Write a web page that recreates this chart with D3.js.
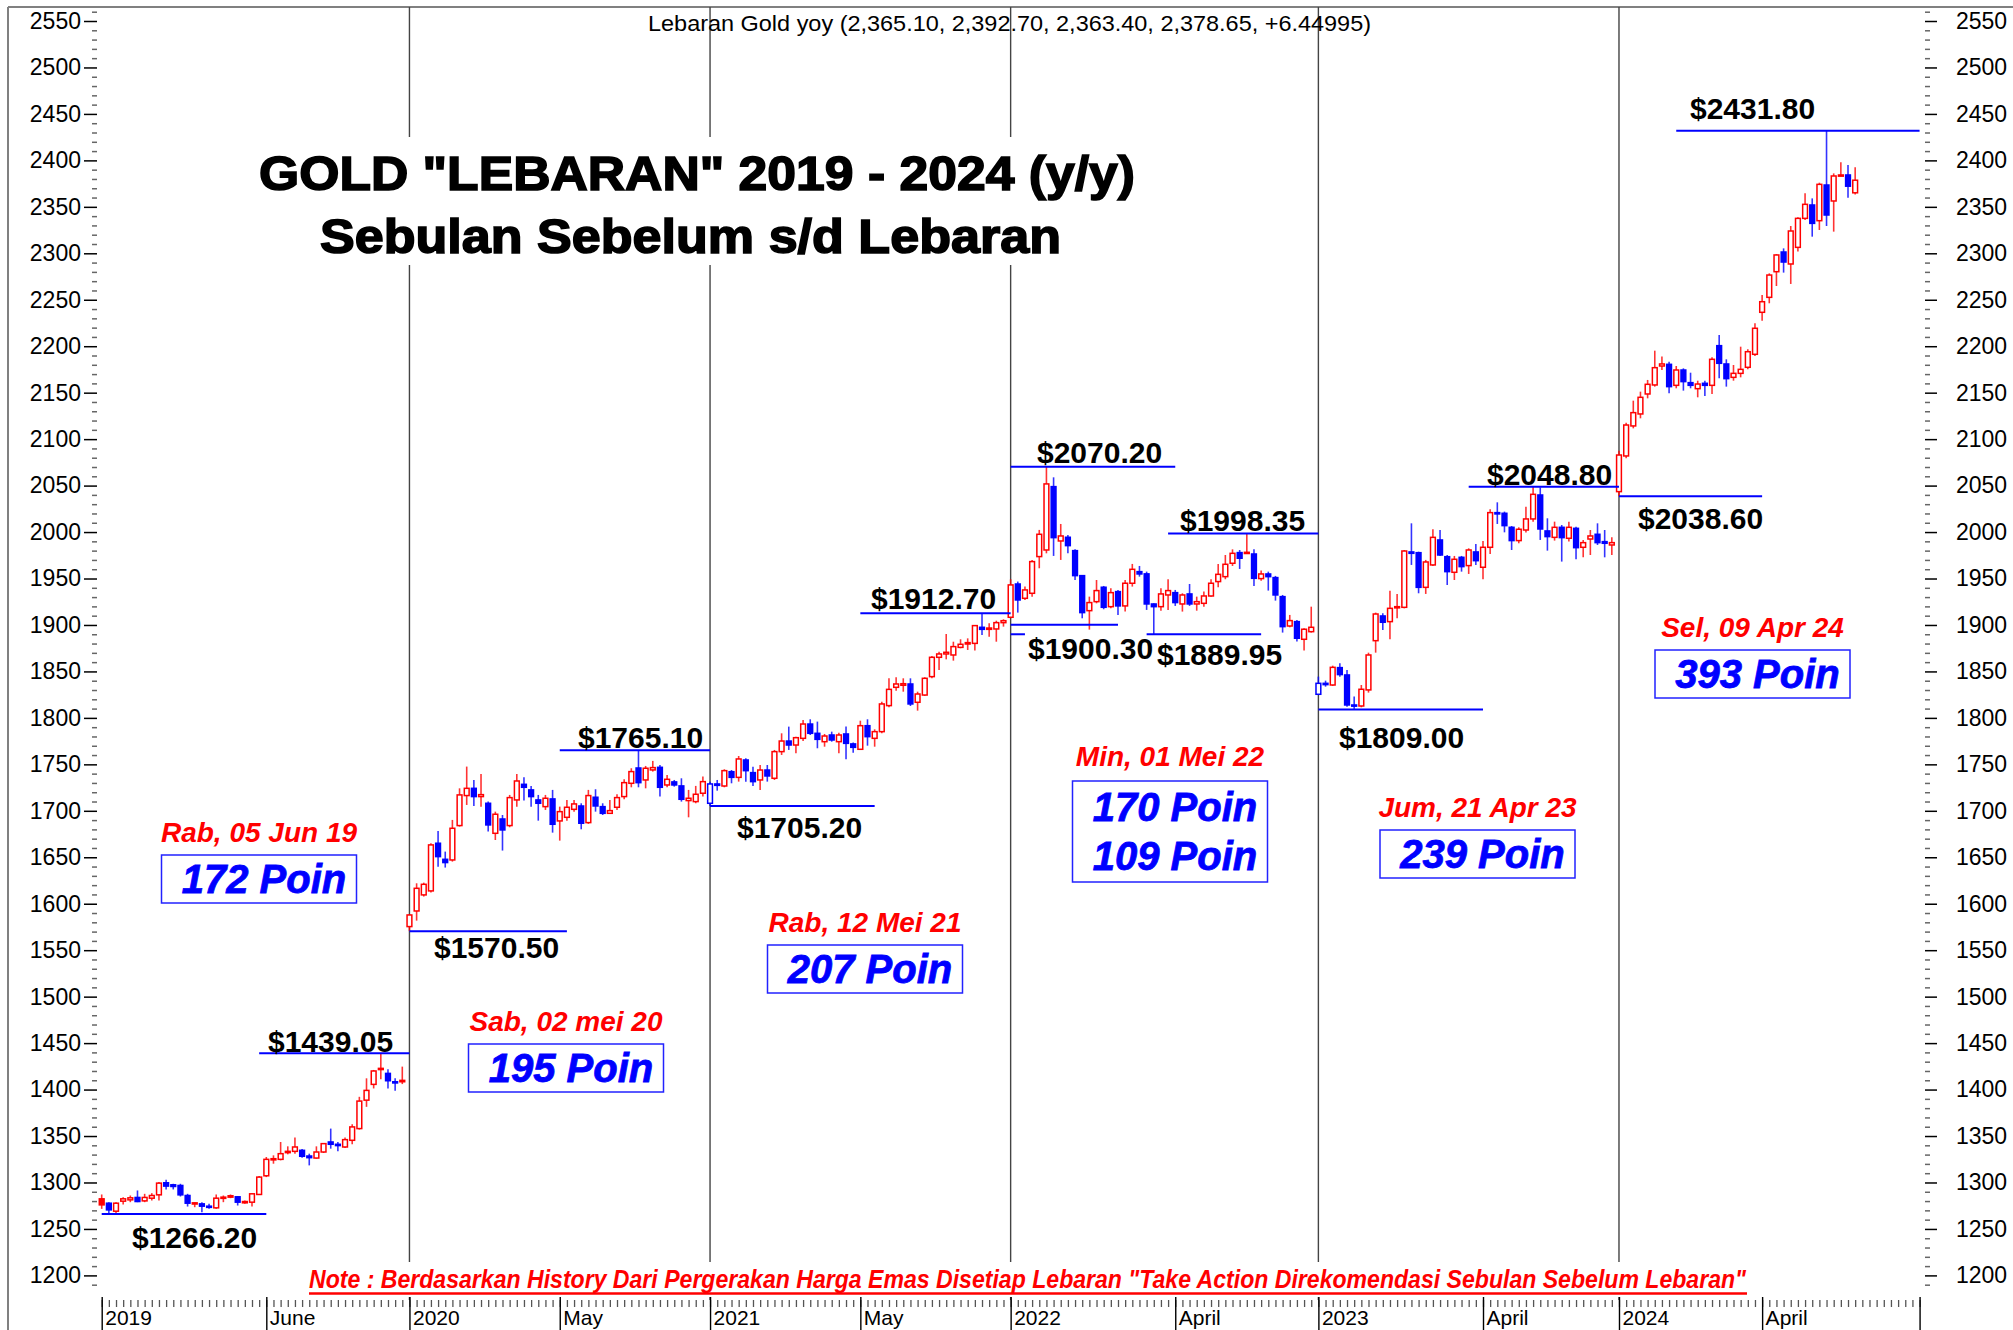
<!DOCTYPE html>
<html><head><meta charset="utf-8">
<script src="https://cdn.jsdelivr.net/npm/d3@7"></script>
<style>html,body{margin:0;padding:0;background:#fff;} svg{display:block;}</style>
</head><body>
<svg id="chart" width="2013" height="1330"></svg>
<script>
// ---------------- DATA ----------------
const years = [2019, 2020, 2021, 2022, 2023, 2024];
const monthLabels = ["June", "May", "May", "April", "April", "April"];
const monthLabelBar = [23, 21, 21, 23, 23, 20]; // bar offset inside each segment
const totalBars = 255;
const priorClose = 1273.0;

// [open, high, low, close]
const ohlc2019 = [
[1282.4,1287.1,1271.6,1275.9],[1277.7,1278.8,1266.2,1270.5],[1269.1,1278.8,1266.9,1277.7],[1279.9,1284.2,1276.3,1282.4],
[1281.3,1286.0,1278.8,1283.5],[1283.9,1291.4,1278.8,1279.5],[1280.2,1287.8,1278.8,1283.9],[1283.1,1288.5,1280.6,1286.0],
[1286.7,1300.4,1280.6,1299.3],[1299.7,1302.9,1292.5,1296.1],[1297.5,1298.6,1292.5,1295.7],[1296.8,1298.6,1284.9,1286.7],
[1286.0,1287.8,1274.1,1277.7],[1277.0,1278.8,1273.4,1278.1],[1277.0,1278.8,1268.0,1274.5],[1274.5,1277.0,1271.6,1273.4],
[1272.7,1287.1,1271.6,1283.1],[1283.1,1286.0,1278.8,1284.2],[1284.2,1287.1,1283.1,1285.7],[1284.6,1285.3,1275.2,1278.8],
[1278.1,1280.6,1277.0,1279.5],[1278.8,1288.5,1274.1,1287.8],[1287.1,1306.9,1286.7,1305.8],[1307.2,1327.4,1305.8,1324.9],
[1324.5,1329.2,1320.2,1325.6],[1324.9,1343.6,1323.8,1331.0],[1332.1,1338.9,1330.3,1333.5],[1333.5,1348.3,1331.0,1338.2],
[1334.6,1336.1,1326.7,1328.2],[1328.5,1331.0,1318.4,1326.7],[1326.3,1338.9,1325.6,1332.8],[1332.8,1342.5,1331.7,1341.8],
[1343.6,1358.0,1336.4,1341.1],[1341.1,1343.6,1333.5,1339.7],[1338.2,1348.3,1337.1,1346.1],[1345.4,1362.7,1341.1,1359.8],
[1358.0,1392.2,1356.9,1387.6],[1388.6,1412.1,1381.4,1399.1],[1405.6,1421.1,1401.2,1420.0],[1422.1,1439.05,1411.0,1422.8],
[1417.4,1421.8,1401.2,1409.5],[1408.4,1412.1,1398.7,1407.4],[1408.4,1424.7,1405.9,1409.9]
];
const ohlc2020 = [
[1575.4,1589.0,1570.5,1587.9],[1592.2,1622.0,1581.8,1616.6],[1609.5,1622.7,1607.7,1620.9],[1613.8,1665.1,1612.0,1663.3],
[1665.1,1678.3,1639.9,1650.7],[1647.8,1656.1,1638.9,1644.3],[1647.1,1690.2,1645.3,1681.2],[1684.1,1724.2,1683.0,1717.1],
[1716.4,1747.6,1706.3,1724.2],[1724.2,1733.2,1705.2,1715.3],[1715.3,1739.7,1704.5,1717.4],[1708.1,1709.9,1677.6,1684.8],
[1675.8,1699.1,1668.6,1696.3],[1691.2,1695.5,1657.2,1679.4],[1684.1,1717.1,1682.3,1714.2],[1711.7,1739.7,1704.5,1732.1],
[1728.5,1736.1,1711.0,1725.3],[1722.5,1726.8,1704.5,1715.3],[1711.7,1717.1,1689.4,1708.1],[1704.5,1717.1,1700.9,1713.5],
[1712.8,1722.5,1676.5,1685.5],[1689.1,1704.5,1667.9,1699.1],[1693.0,1711.7,1689.4,1703.8],[1701.6,1711.7,1699.1,1707.4],
[1705.2,1708.1,1680.1,1686.6],[1687.3,1722.5,1685.9,1716.4],[1714.6,1723.2,1699.1,1705.2],[1704.5,1708.1,1695.5,1697.3],
[1697.3,1711.7,1696.6,1700.2],[1703.8,1717.8,1700.9,1714.2],[1715.3,1733.9,1712.4,1730.3],[1729.6,1745.8,1725.3,1742.2],
[1746.1,1765.1,1725.3,1730.3],[1733.2,1748.3,1724.2,1745.8],[1744.0,1753.7,1742.2,1746.5],[1746.8,1749.4,1715.3,1725.3],
[1727.8,1738.6,1725.3,1733.9],[1731.1,1733.2,1726.0,1727.8],[1726.8,1735.0,1709.9,1712.4],[1711.0,1722.5,1693.0,1713.5],
[1709.9,1726.8,1708.1,1717.8],[1718.9,1736.8,1715.3,1731.4]
];
const ohlc2021 = [
[1708.1,1731.4,1705.2,1728.9],[1728.9,1733.2,1721.7,1727.4],[1726.7,1744.7,1725.3,1743.2],[1742.1,1743.9,1729.6,1736.0],
[1736.0,1759.0,1731.4,1755.8],[1754.7,1756.5,1731.4,1743.2],[1741.1,1747.5,1726.7,1731.4],[1733.2,1749.3,1722.4,1743.9],
[1743.9,1749.3,1731.4,1737.5],[1735.0,1765.5,1733.2,1763.7],[1763.7,1783.4,1760.1,1775.1],[1775.1,1790.6,1765.5,1770.8],
[1770.8,1779.8,1761.9,1778.7],[1778.0,1797.7,1775.1,1793.4],[1793.4,1798.5,1781.6,1783.4],[1783.4,1796.0,1767.3,1776.9],
[1774.4,1782.7,1769.0,1780.5],[1781.6,1785.2,1774.4,1776.2],[1774.4,1784.1,1761.9,1781.6],[1782.7,1790.6,1755.4,1772.6],
[1772.0,1773.4,1762.6,1768.3],[1766.2,1797.0,1765.5,1791.6],[1791.6,1798.5,1770.1,1779.8],[1778.0,1787.7,1769.0,1785.2],
[1785.2,1817.5,1783.4,1815.0],[1813.2,1842.6,1811.4,1830.7],[1832.9,1843.7,1829.3,1836.5],[1835.1,1842.6,1828.2,1836.8],
[1836.5,1842.6,1812.8,1815.0],[1816.8,1828.2,1807.8,1825.7],[1824.6,1843.7,1823.6,1842.6],[1844.4,1866.6,1842.6,1865.2],
[1865.2,1871.3,1851.6,1868.8],[1868.8,1890.3,1863.0,1870.6],[1867.7,1882.0,1861.6,1876.7],[1875.9,1884.6,1874.9,1879.2],
[1879.5,1885.6,1873.1,1881.0],[1880.2,1900.0,1872.4,1899.3],[1897.5,1912.7,1889.2,1895.3],[1895.3,1901.8,1887.4,1896.7],
[1895.7,1904.6,1882.0,1902.5],[1902.5,1906.1,1898.2,1904.6]
];
const ohlc2022 = [
[1908.3,1949.2,1907.2,1943.1],[1944.1,1946.7,1913.3,1926.9],[1928.7,1941.3,1926.9,1937.7],[1934.1,1970.0,1930.5,1968.2],
[1973.6,2002.3,1961.0,1997.6],[1980.7,2070.2,1977.1,2051.8],[2048.9,2058.9,1974.3,1994.0],[1990.4,2008.7,1970.0,1995.8],
[1994.4,1996.9,1977.1,1985.4],[1980.0,1981.4,1948.4,1953.1],[1953.1,1953.8,1907.2,1913.3],[1915.4,1930.5,1895.0,1924.1],
[1925.1,1948.4,1923.3,1937.0],[1940.6,1942.0,1916.9,1919.0],[1919.7,1939.5,1918.0,1934.8],[1935.9,1937.7,1910.8,1920.5],
[1920.5,1948.4,1914.4,1944.9],[1944.9,1965.7,1941.3,1959.9],[1957.4,1963.5,1952.0,1954.9],[1955.0,1957.4,1916.2,1922.6],
[1922.6,1923.3,1889.95,1919.7],[1919.7,1939.5,1915.4,1933.4],[1932.3,1949.2,1916.2,1937.0],[1934.8,1937.7,1920.5,1924.1],
[1922.6,1934.1,1914.4,1932.3],[1933.4,1944.1,1920.5,1922.6],[1922.6,1930.5,1915.4,1925.1],[1923.3,1935.9,1919.7,1931.2],
[1931.2,1949.2,1930.5,1944.9],[1946.7,1965.7,1940.6,1954.5],[1952.0,1975.3,1949.2,1965.3],[1966.4,1981.4,1963.5,1977.1],
[1977.9,1980.7,1960.3,1971.8],[1977.1,1998.35,1976.4,1978.2],[1976.4,1981.4,1942.0,1950.2],[1949.9,1958.5,1947.7,1954.9],
[1954.9,1957.4,1937.0,1952.0],[1951.0,1952.8,1926.2,1932.3],[1930.5,1932.3,1891.8,1898.2],[1898.9,1910.8,1897.5,1904.7],
[1903.6,1905.4,1882.1,1885.7],[1884.6,1896.4,1872.4,1895.4],[1892.8,1919.7,1891.8,1897.5]
];
const ohlc2023 = [
[1825.4,1844.4,1824.7,1837.2],[1837.2,1840.1,1833.6,1835.8],[1835.4,1856.2,1834.4,1854.4],[1854.1,1858.8,1844.4,1846.6],
[1846.2,1851.6,1812.1,1813.9],[1813.9,1822.9,1809.0,1812.8],[1812.8,1835.4,1811.4,1830.8],[1830.1,1870.2,1827.2,1867.7],
[1883.1,1913.3,1870.2,1911.8],[1909.7,1912.6,1894.6,1902.9],[1903.6,1936.9,1884.6,1917.9],[1919.0,1933.4,1907.2,1919.7],
[1919.0,1980.7,1917.9,1979.6],[1978.6,2009.4,1964.6,1977.1],[1977.8,1978.9,1934.1,1940.5],[1940.5,1970.0,1933.4,1967.8],
[1964.6,2003.0,1963.5,1994.3],[1991.5,2002.2,1974.3,1975.3],[1973.5,1975.3,1943.0,1957.4],[1956.7,1974.3,1948.4,1970.7],
[1972.8,1974.3,1957.4,1962.8],[1963.9,1982.5,1954.9,1980.7],[1978.6,1987.2,1964.6,1969.2],[1962.1,1990.4,1949.1,1983.6],
[1983.6,2024.5,1976.4,2020.9],[2020.9,2032.0,2008.7,2019.5],[2020.2,2022.0,1999.7,2006.9],[2005.1,2006.5,1980.7,1990.8],
[1990.8,2005.1,1987.9,2003.0],[2002.2,2027.3,1999.4,2014.1],[2014.1,2048.8,2011.2,2040.6],[2039.9,2048.1,1991.5,2003.3],
[2001.2,2014.8,1980.0,1995.1],[1994.3,2011.2,1990.8,2005.1],[2005.1,2007.6,1968.2,1994.0],[1993.3,2011.2,1989.7,2005.1],
[2004.0,2005.8,1970.7,1983.2],[1983.6,1991.5,1972.8,1988.6],[1992.5,2002.2,1975.3,1995.8],[1997.6,2009.4,1986.1,1988.6],
[1989.7,2002.2,1972.8,1987.9],[1986.1,1994.3,1975.3,1988.6]
];
const ohlc2024 = [
[2043.5,2087.6,2038.6,2082.9],[2081.9,2117.7,2079.4,2115.2],[2114.2,2141.4,2111.6,2128.5],[2127.1,2151.1,2122.4,2145.0],
[2148.6,2163.7,2143.9,2159.0],[2158.3,2195.2,2156.5,2176.9],[2178.7,2188.8,2174.4,2180.9],[2180.5,2183.4,2149.3,2156.5],
[2157.9,2178.7,2154.7,2174.4],[2174.4,2176.2,2152.2,2161.9],[2160.8,2171.5,2154.7,2157.9],[2154.3,2162.9,2145.0,2159.3],
[2160.1,2162.9,2146.4,2157.9],[2157.9,2188.0,2148.6,2185.9],[2200.6,2212.1,2165.4,2181.6],[2180.9,2185.9,2156.5,2165.1],
[2166.5,2179.8,2162.9,2170.8],[2170.8,2199.5,2166.5,2175.1],[2177.3,2196.7,2175.1,2194.1],[2191.3,2224.6,2189.5,2219.3],
[2236.5,2255.1,2227.5,2247.9],[2252.6,2278.4,2246.2,2276.6],[2280.2,2299.2,2264.8,2298.2],[2301.4,2305.3,2279.2,2290.6],
[2288.5,2329.4,2267.0,2324.0],[2306.4,2338.7,2301.8,2337.6],[2337.6,2364.5,2335.8,2352.7],[2352.0,2359.1,2317.9,2332.2],
[2335.1,2376.0,2325.1,2374.2],[2373.5,2431.8,2329.4,2341.2],[2356.3,2386.0,2323.3,2383.2],[2383.2,2397.9,2383.2,2384.3],
[2384.3,2395.0,2359.9,2372.2],[2365.10,2392.70,2363.40,2378.65]
];

// horizontal level annotations
const levelValues = [1266.20, 1439.05, 1570.50, 1765.10, 1705.20, 1912.70, 2070.20, 1900.30, 1890.0, 1998.35, 1889.95, 1809.00, 2048.80, 2038.60, 2431.80];
const levelStart  = [0, 22, 43, 64, 85, 106, 127, 127, 127, 149, 146, 170, 191, 212, 220];
const levelEnd    = [23, 43, 65, 85, 108, 127, 150, 142, 129, 170, 162, 193, 212, 232, 254];
const levelText   = ["$1266.20","$1439.05","$1570.50","$1765.10","$1705.20","$1912.70","$2070.20","$1900.30","","$1998.35","$1889.95","$1809.00","$2048.80","$2038.60","$2431.80"];

const dayLabels  = ["Rab, 05 Jun 19", "Sab, 02 mei 20", "Rab, 12 Mei 21", "Min, 01 Mei 22", "Jum, 21 Apr 23", "Sel, 09 Apr 24"];
const poinLabels = [["172 Poin"], ["195 Poin"], ["207 Poin"], ["170 Poin", "109 Poin"], ["239 Poin"], ["393 Poin"]];

const infoText = "Lebaran Gold yoy (2,365.10, 2,392.70, 2,363.40, 2,378.65, +6.44995)";
const titleLines = ['GOLD "LEBARAN" 2019 - 2024 (y/y)', 'Sebulan Sebelum s/d Lebaran'];
const noteText = 'Note : Berdasarkan History Dari Pergerakan Harga Emas Disetiap Lebaran "Take Action Direkomendasi Sebulan Sebelum Lebaran"';

// ---------------- DRAW ----------------
const RED = "#ff0000", BLUE = "#0000ff";
const FONT = "'Liberation Sans', Arial, Helvetica, sans-serif";
const svg = d3.select("#chart");
svg.append("rect").attr("width", 2013).attr("height", 1330).attr("fill", "#fff");

const x = d3.scaleLinear().domain([0, totalBars - 1]).range([101.7, 101.7 + (totalBars - 1) * 7.157]);
const y = d3.scaleLinear().domain([1200, 2550]).range([1275.4, 21.0]);

const segments = [ohlc2019, ohlc2020, ohlc2021, ohlc2022, ohlc2023, ohlc2024];
const segStart = [];
const bars = [];
let idx = 0, prev = priorClose;
segments.forEach(seg => {
  segStart.push(idx);
  seg.forEach(d => {
    bars.push({ i: idx++, o: d[0], h: d[1], l: d[2], c: d[3], hollow: d[3] >= d[0], col: d[3] >= prev ? RED : BLUE });
    prev = d[3];
  });
});

// frame
svg.append("line").attr("x1", 8).attr("x2", 2013).attr("y1", 7).attr("y2", 7).attr("stroke", "#808080").attr("stroke-width", 2);
svg.append("line").attr("x1", 8).attr("x2", 8).attr("y1", 7).attr("y2", 1330).attr("stroke", "#808080").attr("stroke-width", 2);

// segment separators
segStart.slice(1).forEach(s => {
  svg.append("line").attr("x1", x(s)).attr("x2", x(s)).attr("y1", 7).attr("y2", 1300)
    .attr("stroke", "#444").attr("stroke-width", 1.4);
});

// Y axes
const major = d3.range(1200, 2551, 50);
const minor = d3.range(1190, 2561, 10).filter(v => v % 50 !== 0);
function styleAxis(g, col, w) {
  g.select(".domain").remove();
  g.selectAll(".tick line").attr("stroke", col).attr("stroke-width", w);
  g.selectAll("text").attr("font-family", FONT).attr("font-size", 23).attr("fill", "#000");
}
svg.append("g").attr("transform", "translate(97,0)")
  .call(d3.axisLeft(y).tickValues(minor).tickSize(5).tickFormat(""))
  .call(g => styleAxis(g, "#666", 1.5));
svg.append("g").attr("transform", "translate(97,0)")
  .call(d3.axisLeft(y).tickValues(major).tickSize(13).tickPadding(3).tickFormat(d3.format("d")))
  .call(g => styleAxis(g, "#000", 1.5));
svg.append("g").attr("transform", "translate(1925,0)")
  .call(d3.axisRight(y).tickValues(minor).tickSize(5).tickFormat(""))
  .call(g => styleAxis(g, "#666", 1.5));
svg.append("g").attr("transform", "translate(1925,0)")
  .call(d3.axisRight(y).tickValues(major).tickSize(12).tickPadding(19).tickFormat(d3.format("d")))
  .call(g => styleAxis(g, "#000", 1.5));

// X axis
const xMajor = [];
const xLabel = {};
years.forEach((yr, k) => {
  xMajor.push(segStart[k]); xLabel[segStart[k]] = String(yr);
  const m = segStart[k] + monthLabelBar[k];
  xMajor.push(m); xLabel[m] = monthLabels[k];
});
xMajor.push(totalBars - 1); xLabel[totalBars - 1] = "";
svg.append("g").attr("transform", "translate(0,1300)")
  .call(d3.axisBottom(x).tickValues(d3.range(0, totalBars)).tickSize(7).tickFormat(""))
  .call(g => { g.select(".domain").remove(); g.selectAll(".tick line").attr("stroke", "#555").attr("stroke-width", 1.3); });
svg.append("g").attr("transform", "translate(0,1297)")
  .call(d3.axisBottom(x).tickValues(xMajor).tickSize(33).tickFormat(d => xLabel[d]))
  .call(g => {
    g.select(".domain").remove();
    g.selectAll(".tick line").attr("stroke", "#000").attr("stroke-width", 1.4);
    g.selectAll("text").attr("font-family", FONT).attr("font-size", 21).attr("fill", "#000")
      .attr("text-anchor", "start").attr("x", 3).attr("y", 27.5).attr("dy", null);
  });

// white boxes behind title & note
svg.append("rect").attr("x", 252).attr("y", 137).attr("width", 892).attr("height", 128).attr("fill", "#fff");
svg.append("rect").attr("x", 305).attr("y", 1262).attr("width", 1447).attr("height", 35).attr("fill", "#fff");

// candles
const cg = svg.append("g");
cg.selectAll("line.wick").data(bars).join("line").attr("class", "wick")
  .attr("x1", d => x(d.i)).attr("x2", d => x(d.i))
  .attr("y1", d => y(d.h)).attr("y2", d => y(d.l))
  .attr("stroke", d => d.col).attr("stroke-width", 1.6).attr("stroke-opacity", 0.8);
cg.selectAll("rect.body").data(bars).join("rect").attr("class", "body")
  .attr("x", d => x(d.i) - 2.4).attr("width", 4.8)
  .attr("y", d => y(Math.max(d.o, d.c)))
  .attr("height", d => Math.max(1.2, Math.abs(y(d.o) - y(d.c))))
  .attr("fill", d => d.hollow ? "#fff" : d.col)
  .attr("stroke", d => d.col).attr("stroke-width", 1.5);

// level lines
const lg = svg.append("g");
levelValues.forEach((v, k) => {
  lg.append("line").attr("x1", x(levelStart[k])).attr("x2", x(levelEnd[k]))
    .attr("y1", y(v)).attr("y2", y(v)).attr("stroke", BLUE).attr("stroke-width", 2);
});
// label layout: [left x, baseline offset from the line]
const levelLabelPos = [[132,34],[268,-1],[434,27],[578,-2],[737,32],[871,-4],[1037,-4],[1028,34],[0,0],[1180,-3],[1157,31],[1339,38],[1487,-2],[1638,33],[1690,-12]];
levelValues.forEach((v, k) => {
  if (!levelText[k]) return;
  lg.append("text").attr("x", levelLabelPos[k][0]).attr("y", y(v) + levelLabelPos[k][1])
    .attr("font-family", FONT).attr("font-weight", "bold").attr("font-size", 30).attr("fill", "#000")
    .text(levelText[k]);
});

// info text at top
svg.append("text").attr("x", 648).attr("y", 31).attr("font-family", FONT).attr("font-size", 22)
  .attr("textLength", 723).attr("lengthAdjust", "spacingAndGlyphs").attr("fill", "#000").text(infoText);

// title
const titleLayout = [[259, 190, 876], [320, 253, 741]];
titleLines.forEach((t, k) => {
  svg.append("text").attr("x", titleLayout[k][0]).attr("y", titleLayout[k][1])
    .attr("font-family", FONT).attr("font-weight", "bold").attr("font-size", 48)
    .attr("textLength", titleLayout[k][2]).attr("lengthAdjust", "spacingAndGlyphs")
    .attr("fill", "#000").attr("stroke", "#000").attr("stroke-width", 1.6).text(t);
});

// day / poin boxes
const boxCX = [259, 566, 865, 1170, 1477.5, 1752.5];
const boxBase = [842, 1031, 932, 766, 817, 637];
dayLabels.forEach((t, k) => {
  const cx = boxCX[k], b = boxBase[k];
  svg.append("text").attr("x", cx).attr("y", b).attr("text-anchor", "middle")
    .attr("font-family", FONT).attr("font-weight", "bold").attr("font-style", "italic").attr("font-size", 28)
    .attr("fill", RED).text(t);
  const lines = poinLabels[k];
  const dbl = lines.length > 1;
  const top = b + (dbl ? 15 : 13), h = dbl ? 101 : 48;
  svg.append("rect").attr("x", cx - 97.5).attr("y", top).attr("width", 195).attr("height", h)
    .attr("fill", "#fff").attr("stroke", "#2222ff").attr("stroke-width", 1.5);
  lines.forEach((p, j) => {
    svg.append("text").attr("x", cx + 5).attr("y", top + (dbl ? 40 : 38) + j * 49).attr("text-anchor", "middle")
      .attr("font-family", FONT).attr("font-weight", "bold").attr("font-style", "italic").attr("font-size", 40)
      .attr("fill", BLUE).attr("stroke", BLUE).attr("stroke-width", 0.8).text(p);
  });
});

// note
svg.append("text").attr("x", 309).attr("y", 1288).attr("font-family", FONT).attr("font-weight", "bold")
  .attr("font-style", "italic").attr("font-size", 26).attr("fill", RED)
  .attr("textLength", 1437).attr("lengthAdjust", "spacingAndGlyphs").text(noteText);
svg.append("line").attr("x1", 309).attr("x2", 1747).attr("y1", 1293.5).attr("y2", 1293.5)
  .attr("stroke", RED).attr("stroke-width", 2.5);
</script>
</body></html>
